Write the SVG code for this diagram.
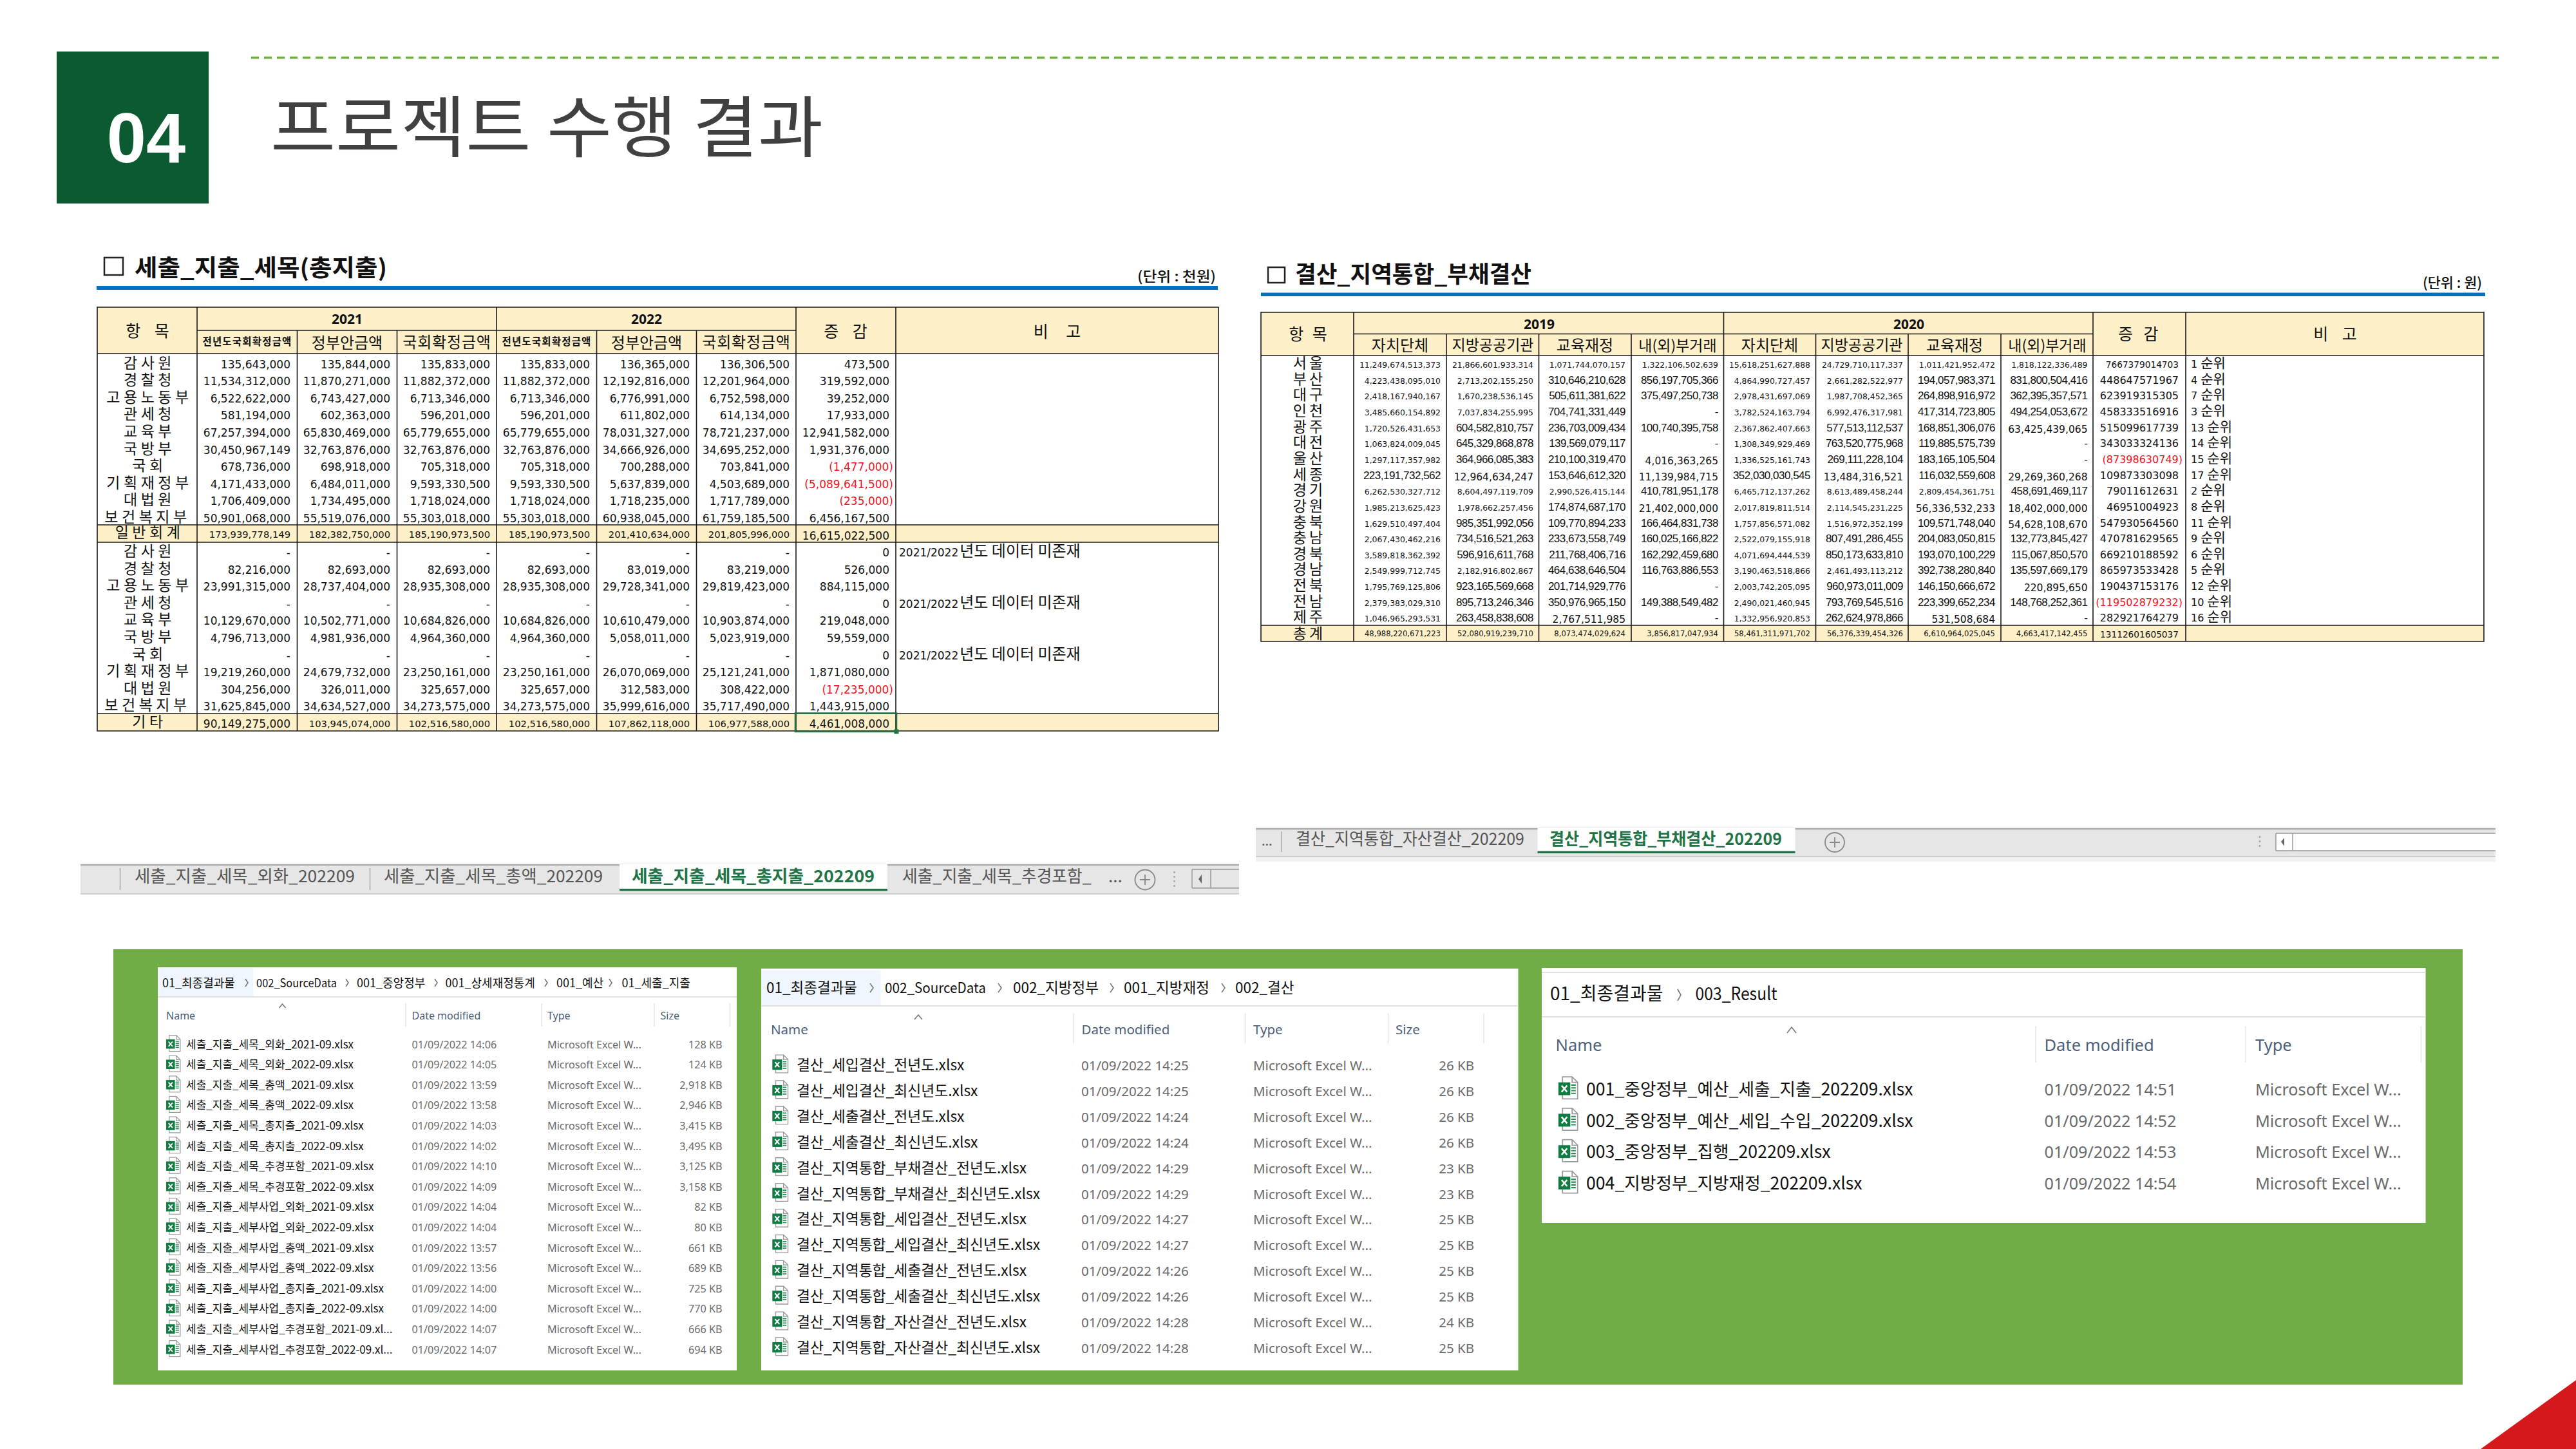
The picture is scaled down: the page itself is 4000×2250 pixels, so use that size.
<svg xmlns="http://www.w3.org/2000/svg" xmlns:xlink="http://www.w3.org/1999/xlink" width="4000" height="2250" viewBox="0 0 4000 2250">
<style>
text{font-family:'Noto Sans CJK KR','Noto Sans',sans-serif;fill:#111}
.n,.t,.m,.b,.z,.nr,.tr{font-family:'DejaVu Sans','Liberation Sans',sans-serif;text-anchor:end}
.n{font-size:17px}.t{font-size:14.7px}.nr{font-size:17px;fill:#f0141e}
.lb{font-size:23px;letter-spacing:5.5px;text-anchor:middle}
.lb2{font-size:23px;letter-spacing:4px;text-anchor:middle}
.hd{font-size:25px;text-anchor:middle}
.yr{font-family:'Noto Sans',sans-serif;font-weight:700;font-size:21px;text-anchor:middle}
.sh{font-size:15.5px;font-weight:700;letter-spacing:1.2px;text-anchor:middle}
.sb{font-size:24px;text-anchor:middle}
.h2{font-size:23px;text-anchor:middle}
.ttl{font-size:36px;font-weight:700}
.unit{font-size:22px;font-weight:500}
.note{font-size:24px}.noted{font-family:'DejaVu Sans',sans-serif;font-size:17px}
.s{font-family:'DejaVu Sans',sans-serif;font-size:12.4px;text-anchor:end}
.st{font-family:'DejaVu Sans',sans-serif;font-size:11.6px;text-anchor:end}
.g{font-family:'Liberation Sans',sans-serif;font-size:17px;letter-spacing:-.5px;text-anchor:end}
.md{font-family:'DejaVu Sans',sans-serif;font-size:15.5px;text-anchor:end}
.d{font-family:'DejaVu Sans',sans-serif;font-size:16px;text-anchor:end}
.d13{font-family:'DejaVu Sans',sans-serif;font-size:13.7px;text-anchor:end}
.dr{font-family:'DejaVu Sans',sans-serif;font-size:16px;text-anchor:end;fill:#f0141e}
.rk{font-family:'DejaVu Sans',sans-serif;font-size:16px}
.rkh{font-family:'Noto Sans CJK KR',sans-serif;font-size:21px}
.grid{stroke:#1a1a1a;stroke-width:1.6;fill:none}
.band{fill:#fef0c8}
.tabt{font-size:26px;fill:#555}
.tabs{font-size:26px;font-weight:700;fill:#217346}
.tl{fill:#e6e6e6}
.sp{stroke:#a8a8a8;stroke-width:1.5;fill:none}
.ch{stroke:#777;stroke-width:1.6;fill:none}
.hl{fill:#f0f6fd}
.ln{stroke:#e2e2e2;stroke-width:2;fill:none}
.sep{stroke:#e5e5e5;stroke-width:1.5;fill:none}
.c,.b2{font-family:'Noto Sans',sans-serif}
.c{fill:#4c607a}
.dt{font-family:'Noto Sans',sans-serif;fill:#6a6a6a}
.sz{font-family:'Noto Sans',sans-serif;fill:#6a6a6a;text-anchor:end}
.p1 .bc{font-size:18px}.p1 .c{font-size:16px}.p1 .nm{font-size:17px}.p1 .dt,.p1 .sz{font-size:16.2px}
.p2 .bc{font-size:22.5px}.p2 .c{font-size:20.5px}.p2 .nm{font-size:22.8px}.p2 .dt,.p2 .sz{font-size:20.5px}
.p3 .bc{font-size:28px}.p3 .c{font-size:25.5px}.p3 .nm{font-size:26.7px}.p3 .dt{font-size:25.2px}
</style>
<defs>
<symbol id="xl" viewBox="0 0 22 26">
<path d="M4.5 1H15L21 7V25H4.500Z" fill="#fff" stroke="#9a9a9a" stroke-width="1.2"/>
<path d="M15 1V7H21" fill="none" stroke="#9a9a9a" stroke-width="1.200"/>
<path d="M14 10h5M14 13h5M14 16h5M14 19h5" stroke="#2e8b57" stroke-width="1.500"/>
<rect x="0" y="7" width="13" height="14" fill="#107c41"/>
<path d="M3.500 10.500L9.500 17.500M9.500 10.500L3.500 17.500" stroke="#fff" stroke-width="1.800"/>
</symbol>
</defs>
<rect width="4000" height="2250" fill="#fff"/>

<g id="header">
<rect x="88" y="80" width="236" height="236" fill="#0b5a31"/>
<text x="227" y="252" text-anchor="middle" style="font-family:'Liberation Sans',sans-serif;font-weight:700;font-size:110px;fill:#fff">04</text>
<line x1="390" y1="89.500" x2="3880" y2="89.500" stroke="#70ad47" stroke-width="3.500" stroke-dasharray="12 8"/>
<text x="420" y="236" textLength="858" lengthAdjust="spacingAndGlyphs" style="font-size:104px;fill:#404040;font-weight:400">프로젝트 수행 결과</text>
</g>

<g id="table-budget">
<rect x="162" y="400" width="29" height="27" fill="none" stroke="#222" stroke-width="2.500"/>
<text class="ttl" x="209" y="429" textLength="392" lengthAdjust="spacingAndGlyphs">세출_지출_세목(총지출)</text>
<text class="unit" x="1766" y="437" textLength="122" lengthAdjust="spacingAndGlyphs">(단위 : 천원)</text>
<rect x="150" y="444" width="1741" height="6" fill="#0070c0"/>
<rect class="band" x="151" y="477" width="1741" height="72"/>
<rect class="band" x="151" y="815" width="1741" height="27"/>
<rect class="band" x="151" y="1108" width="1741" height="27"/>
<path class="grid" d="M151 477H1892V1135H151ZM306 513H1236M151 549H1892M151 815H1892M151 842H1892M151 1108H1892M306 477V1135M771 477V1135M1236 477V1135M1391 477V1135M461.500 513V1135M616.500 513V1135M926.500 513V1135M1081.500 513V1135"/>
<text class="hd" x="233" y="523" style="letter-spacing:8px">항 목</text>
<text class="yr" x="539" y="503">2021</text><text class="yr" x="1004" y="503">2022</text>
<text class="sh" x="384" y="536">전년도국회확정금액</text><text class="sb" x="539" y="541">정부안금액</text><text class="sb" x="694" y="540" style="letter-spacing:.8px">국회확정금액</text>
<text class="sh" x="849" y="536">전년도국회확정금액</text><text class="sb" x="1004" y="541">정부안금액</text><text class="sb" x="1159" y="540" style="letter-spacing:.8px">국회확정금액</text>
<text class="hd" x="1317" y="524" style="letter-spacing:8px">증 감</text><text class="hd" x="1647" y="524" style="letter-spacing:11px">비 고</text>

<g transform="translate(0,571.500)"><text class="lb" x="232">감사원</text><text class="n" x="451">135,643,000</text><text class="n" x="606">135,844,000</text><text class="n" x="761">135,833,000</text><text class="n" x="916">135,833,000</text><text class="n" x="1071">136,365,000</text><text class="n" x="1226">136,306,500</text><text class="n" x="1381">473,500</text></g>
<g transform="translate(0,598.100)"><text class="lb" x="232">경찰청</text><text class="n" x="451">11,534,312,000</text><text class="n" x="606">11,870,271,000</text><text class="n" x="761">11,882,372,000</text><text class="n" x="916">11,882,372,000</text><text class="n" x="1071">12,192,816,000</text><text class="n" x="1226">12,201,964,000</text><text class="n" x="1381">319,592,000</text></g>
<g transform="translate(0,624.700)"><text class="lb" x="232">고용노동부</text><text class="n" x="451">6,522,622,000</text><text class="n" x="606">6,743,427,000</text><text class="n" x="761">6,713,346,000</text><text class="n" x="916">6,713,346,000</text><text class="n" x="1071">6,776,991,000</text><text class="n" x="1226">6,752,598,000</text><text class="n" x="1381">39,252,000</text></g>
<g transform="translate(0,651.300)"><text class="lb" x="232">관세청</text><text class="n" x="451">581,194,000</text><text class="n" x="606">602,363,000</text><text class="n" x="761">596,201,000</text><text class="n" x="916">596,201,000</text><text class="n" x="1071">611,802,000</text><text class="n" x="1226">614,134,000</text><text class="n" x="1381">17,933,000</text></g>
<g transform="translate(0,677.900)"><text class="lb" x="232">교육부</text><text class="n" x="451">67,257,394,000</text><text class="n" x="606">65,830,469,000</text><text class="n" x="761">65,779,655,000</text><text class="n" x="916">65,779,655,000</text><text class="n" x="1071">78,031,327,000</text><text class="n" x="1226">78,721,237,000</text><text class="n" x="1381">12,941,582,000</text></g>
<g transform="translate(0,704.500)"><text class="lb" x="232">국방부</text><text class="n" x="451">30,450,967,149</text><text class="n" x="606">32,763,876,000</text><text class="n" x="761">32,763,876,000</text><text class="n" x="916">32,763,876,000</text><text class="n" x="1071">34,666,926,000</text><text class="n" x="1226">34,695,252,000</text><text class="n" x="1381">1,931,376,000</text></g>
<g transform="translate(0,731.100)"><text class="lb" x="232">국회</text><text class="n" x="451">678,736,000</text><text class="n" x="606">698,918,000</text><text class="n" x="761">705,318,000</text><text class="n" x="916">705,318,000</text><text class="n" x="1071">700,288,000</text><text class="n" x="1226">703,841,000</text><text class="nr" x="1387">(1,477,000)</text></g>
<g transform="translate(0,757.700)"><text class="lb" x="232">기획재정부</text><text class="n" x="451">4,171,433,000</text><text class="n" x="606">6,484,011,000</text><text class="n" x="761">9,593,330,500</text><text class="n" x="916">9,593,330,500</text><text class="n" x="1071">5,637,839,000</text><text class="n" x="1226">4,503,689,000</text><text class="nr" x="1387">(5,089,641,500)</text></g>
<g transform="translate(0,784.300)"><text class="lb" x="232">대법원</text><text class="n" x="451">1,706,409,000</text><text class="n" x="606">1,734,495,000</text><text class="n" x="761">1,718,024,000</text><text class="n" x="916">1,718,024,000</text><text class="n" x="1071">1,718,235,000</text><text class="n" x="1226">1,717,789,000</text><text class="nr" x="1387">(235,000)</text></g>
<g transform="translate(0,810.900)"><text class="lb" x="229">보건복지부</text><text class="n" x="451">50,901,068,000</text><text class="n" x="606">55,519,076,000</text><text class="n" x="761">55,303,018,000</text><text class="n" x="916">55,303,018,000</text><text class="n" x="1071">60,938,045,000</text><text class="n" x="1226">61,759,185,500</text><text class="n" x="1381">6,456,167,500</text></g>
<g transform="translate(0,835)"><text class="lb" x="232">일반회계</text><text class="t" x="451">173,939,778,149</text><text class="t" x="606">182,382,750,000</text><text class="t" x="761">185,190,973,500</text><text class="t" x="916">185,190,973,500</text><text class="t" x="1071">201,410,634,000</text><text class="t" x="1226">201,805,996,000</text><text class="n" x="1381" y="3">16,615,022,500</text></g>
<g transform="translate(0,864)"><text class="lb" x="232">감사원</text><text class="n" x="451">-</text><text class="n" x="606">-</text><text class="n" x="761">-</text><text class="n" x="916">-</text><text class="n" x="1071">-</text><text class="n" x="1226">-</text><text class="n" x="1381">0</text><text x="1396"><tspan class="noted">2021/2022</tspan><tspan class="note" dx="2">년도 데이터 미존재</tspan></text></g>
<g transform="translate(0,890.600)"><text class="lb" x="232">경찰청</text><text class="n" x="451">82,216,000</text><text class="n" x="606">82,693,000</text><text class="n" x="761">82,693,000</text><text class="n" x="916">82,693,000</text><text class="n" x="1071">83,019,000</text><text class="n" x="1226">83,219,000</text><text class="n" x="1381">526,000</text></g>
<g transform="translate(0,917.200)"><text class="lb" x="232">고용노동부</text><text class="n" x="451">23,991,315,000</text><text class="n" x="606">28,737,404,000</text><text class="n" x="761">28,935,308,000</text><text class="n" x="916">28,935,308,000</text><text class="n" x="1071">29,728,341,000</text><text class="n" x="1226">29,819,423,000</text><text class="n" x="1381">884,115,000</text></g>
<g transform="translate(0,943.800)"><text class="lb" x="232">관세청</text><text class="n" x="451">-</text><text class="n" x="606">-</text><text class="n" x="761">-</text><text class="n" x="916">-</text><text class="n" x="1071">-</text><text class="n" x="1226">-</text><text class="n" x="1381">0</text><text x="1396"><tspan class="noted">2021/2022</tspan><tspan class="note" dx="2">년도 데이터 미존재</tspan></text></g>
<g transform="translate(0,970.400)"><text class="lb" x="232">교육부</text><text class="n" x="451">10,129,670,000</text><text class="n" x="606">10,502,771,000</text><text class="n" x="761">10,684,826,000</text><text class="n" x="916">10,684,826,000</text><text class="n" x="1071">10,610,479,000</text><text class="n" x="1226">10,903,874,000</text><text class="n" x="1381">219,048,000</text></g>
<g transform="translate(0,997)"><text class="lb" x="232">국방부</text><text class="n" x="451">4,796,713,000</text><text class="n" x="606">4,981,936,000</text><text class="n" x="761">4,964,360,000</text><text class="n" x="916">4,964,360,000</text><text class="n" x="1071">5,058,011,000</text><text class="n" x="1226">5,023,919,000</text><text class="n" x="1381">59,559,000</text></g>
<g transform="translate(0,1023.600)"><text class="lb" x="232">국회</text><text class="n" x="451">-</text><text class="n" x="606">-</text><text class="n" x="761">-</text><text class="n" x="916">-</text><text class="n" x="1071">-</text><text class="n" x="1226">-</text><text class="n" x="1381">0</text><text x="1396"><tspan class="noted">2021/2022</tspan><tspan class="note" dx="2">년도 데이터 미존재</tspan></text></g>
<g transform="translate(0,1050.200)"><text class="lb" x="232">기획재정부</text><text class="n" x="451">19,219,260,000</text><text class="n" x="606">24,679,732,000</text><text class="n" x="761">23,250,161,000</text><text class="n" x="916">23,250,161,000</text><text class="n" x="1071">26,070,069,000</text><text class="n" x="1226">25,121,241,000</text><text class="n" x="1381">1,871,080,000</text></g>
<g transform="translate(0,1076.800)"><text class="lb" x="232">대법원</text><text class="n" x="451">304,256,000</text><text class="n" x="606">326,011,000</text><text class="n" x="761">325,657,000</text><text class="n" x="916">325,657,000</text><text class="n" x="1071">312,583,000</text><text class="n" x="1226">308,422,000</text><text class="nr" x="1387">(17,235,000)</text></g>
<g transform="translate(0,1103.400)"><text class="lb" x="229">보건복지부</text><text class="n" x="451">31,625,845,000</text><text class="n" x="606">34,634,527,000</text><text class="n" x="761">34,273,575,000</text><text class="n" x="916">34,273,575,000</text><text class="n" x="1071">35,999,616,000</text><text class="n" x="1226">35,717,490,000</text><text class="n" x="1381">1,443,915,000</text></g>
<g transform="translate(0,1129)"><text class="lb" x="232">기타</text><text class="n" x="451" y="1">90,149,275,000</text><text class="t" x="606">103,945,074,000</text><text class="t" x="761">102,516,580,000</text><text class="t" x="916">102,516,580,000</text><text class="t" x="1071">107,862,118,000</text><text class="t" x="1226">106,977,588,000</text><text class="n" x="1381" y="1">4,461,008,000</text></g>
<rect x="1235" y="1107.500" width="157" height="28.500" fill="none" stroke="#217346" stroke-width="2.500"/>
<rect x="1388.500" y="1132.500" width="7" height="7" fill="#217346"/>
</g>

<g id="table-settlement">
<rect x="1969" y="415" width="26" height="24" fill="none" stroke="#222" stroke-width="2.500"/>
<text class="ttl" x="2011" y="439" textLength="367" lengthAdjust="spacingAndGlyphs">결산_지역통합_부채결산</text>
<text class="unit" x="3762" y="447" textLength="92" lengthAdjust="spacingAndGlyphs">(단위 : 원)</text>
<rect x="1958" y="454.500" width="1901" height="5.500" fill="#0070c0"/>
<rect class="band" x="1958" y="485" width="1899" height="67"/>
<rect class="band" x="1958" y="971" width="1899" height="25"/>
<path class="grid" d="M1958 485H3857V996H1958ZM2102 518.500H3250M1958 552H3857M1958 971H3857M2102 485V996M2676.500 485V996M3250 485V996M3394 485V996M2246 518.500V996M2389.500 518.500V996M2533 518.500V996M2819.500 518.500V996M2963 518.500V996M3107 518.500V996"/>
<text class="hd" x="2033" y="528" style="letter-spacing:4px">항 목</text>
<text class="yr" x="2390" y="511">2019</text><text class="yr" x="2964" y="511">2020</text>
<text class="sb" x="2174" y="545">자치단체</text><text class="h2" x="2318" y="544">지방공공기관</text><text class="sb" x="2461" y="545">교육재정</text><text class="h2" x="2605" y="545">내(외)부거래</text>
<text class="sb" x="2748" y="545">자치단체</text><text class="h2" x="2891" y="544">지방공공기관</text><text class="sb" x="3035" y="545">교육재정</text><text class="h2" x="3179" y="545">내(외)부거래</text>
<text class="hd" x="3323" y="528" style="letter-spacing:5.500px">증 감</text><text class="hd" x="3630" y="528" style="letter-spacing:8px">비 고</text>

<g transform="translate(0,571)"><text class="lb2" x="2033" y="1">서울</text><text class="s" x="2237">11,249,674,513,373</text><text class="s" x="2381">21,866,601,933,314</text><text class="s" x="2524">1,071,744,070,157</text><text class="s" x="2668">1,322,106,502,639</text><text class="s" x="2811">15,618,251,627,888</text><text class="s" x="2955">24,729,710,117,337</text><text class="s" x="3098">1,011,421,952,472</text><text class="s" x="3241.500">1,818,122,336,489</text><text class="d13" x="3383">7667379014703</text><text x="3402"><tspan class="rk">1</tspan><tspan class="rkh" dx="5">순위</tspan></text></g>
<g transform="translate(0,595.650)"><text class="lb2" x="2033" y="1">부산</text><text class="s" x="2237">4,223,438,095,010</text><text class="s" x="2381">2,713,202,155,250</text><text class="g" x="2524">310,646,210,628</text><text class="g" x="2668">856,197,705,366</text><text class="s" x="2811">4,864,990,727,457</text><text class="s" x="2955">2,661,282,522,977</text><text class="g" x="3098">194,057,983,371</text><text class="g" x="3241.500">831,800,504,416</text><text class="d" x="3383">448647571967</text><text x="3402"><tspan class="rk">4</tspan><tspan class="rkh" dx="5">순위</tspan></text></g>
<g transform="translate(0,620.300)"><text class="lb2" x="2033" y="1">대구</text><text class="s" x="2237">2,418,167,940,167</text><text class="s" x="2381">1,670,238,536,145</text><text class="g" x="2524">505,611,381,622</text><text class="g" x="2668">375,497,250,738</text><text class="s" x="2811">2,978,431,697,069</text><text class="s" x="2955">1,987,708,452,365</text><text class="g" x="3098">264,898,916,972</text><text class="g" x="3241.500">362,395,357,571</text><text class="d" x="3383">623919315305</text><text x="3402"><tspan class="rk">7</tspan><tspan class="rkh" dx="5">순위</tspan></text></g>
<g transform="translate(0,644.950)"><text class="lb2" x="2033" y="1">인천</text><text class="s" x="2237">3,485,660,154,892</text><text class="s" x="2381">7,037,834,255,995</text><text class="g" x="2524">704,741,331,449</text><text class="g" x="2668">-</text><text class="s" x="2811">3,782,524,163,794</text><text class="s" x="2955">6,992,476,317,981</text><text class="g" x="3098">417,314,723,805</text><text class="g" x="3241.500">494,254,053,672</text><text class="d" x="3383">458333516916</text><text x="3402"><tspan class="rk">3</tspan><tspan class="rkh" dx="5">순위</tspan></text></g>
<g transform="translate(0,669.600)"><text class="lb2" x="2033" y="1">광주</text><text class="s" x="2237">1,720,526,431,653</text><text class="g" x="2381">604,582,810,757</text><text class="g" x="2524">236,703,009,434</text><text class="g" x="2668">100,740,395,758</text><text class="s" x="2811">2,367,862,407,663</text><text class="g" x="2955">577,513,112,537</text><text class="g" x="3098">168,851,306,076</text><text class="md" x="3241.500" y="2">63,425,439,065</text><text class="d" x="3383">515099617739</text><text x="3402"><tspan class="rk">13</tspan><tspan class="rkh" dx="5">순위</tspan></text></g>
<g transform="translate(0,694.250)"><text class="lb2" x="2033" y="1">대전</text><text class="s" x="2237">1,063,824,009,045</text><text class="g" x="2381">645,329,868,878</text><text class="g" x="2524">139,569,079,117</text><text class="g" x="2668">-</text><text class="s" x="2811">1,308,349,929,469</text><text class="g" x="2955">763,520,775,968</text><text class="g" x="3098">119,885,575,739</text><text class="g" x="3241.500">-</text><text class="d" x="3383">343033324136</text><text x="3402"><tspan class="rk">14</tspan><tspan class="rkh" dx="5">순위</tspan></text></g>
<g transform="translate(0,718.900)"><text class="lb2" x="2033" y="1">울산</text><text class="s" x="2237">1,297,117,357,982</text><text class="g" x="2381">364,966,085,383</text><text class="g" x="2524">210,100,319,470</text><text class="md" x="2668" y="2">4,016,363,265</text><text class="s" x="2811">1,336,525,161,743</text><text class="g" x="2955">269,111,228,104</text><text class="g" x="3098">183,165,105,504</text><text class="g" x="3241.500">-</text><text class="dr" x="3389">(87398630749)</text><text x="3402"><tspan class="rk">15</tspan><tspan class="rkh" dx="5">순위</tspan></text></g>
<g transform="translate(0,743.550)"><text class="lb2" x="2033" y="1">세종</text><text class="g" x="2237">223,191,732,562</text><text class="md" x="2381" y="2">12,964,634,247</text><text class="g" x="2524">153,646,612,320</text><text class="md" x="2668" y="2">11,139,984,715</text><text class="g" x="2811">352,030,030,545</text><text class="md" x="2955" y="2">13,484,316,521</text><text class="g" x="3098">116,032,559,608</text><text class="md" x="3241.500" y="2">29,269,360,268</text><text class="d" x="3383">109873303098</text><text x="3402"><tspan class="rk">17</tspan><tspan class="rkh" dx="5">순위</tspan></text></g>
<g transform="translate(0,768.200)"><text class="lb2" x="2033" y="1">경기</text><text class="s" x="2237">6,262,530,327,712</text><text class="s" x="2381">8,604,497,119,709</text><text class="s" x="2524">2,990,526,415,144</text><text class="g" x="2668">410,781,951,178</text><text class="s" x="2811">6,465,712,137,262</text><text class="s" x="2955">8,613,489,458,244</text><text class="s" x="3098">2,809,454,361,751</text><text class="g" x="3241.500">458,691,469,117</text><text class="d" x="3383">79011612631</text><text x="3402"><tspan class="rk">2</tspan><tspan class="rkh" dx="5">순위</tspan></text></g>
<g transform="translate(0,792.850)"><text class="lb2" x="2033" y="1">강원</text><text class="s" x="2237">1,985,213,625,423</text><text class="s" x="2381">1,978,662,257,456</text><text class="g" x="2524">174,874,687,170</text><text class="md" x="2668" y="2">21,402,000,000</text><text class="s" x="2811">2,017,819,811,514</text><text class="s" x="2955">2,114,545,231,225</text><text class="md" x="3098" y="2">56,336,532,233</text><text class="md" x="3241.500" y="2">18,402,000,000</text><text class="d" x="3383">46951004923</text><text x="3402"><tspan class="rk">8</tspan><tspan class="rkh" dx="5">순위</tspan></text></g>
<g transform="translate(0,817.500)"><text class="lb2" x="2033" y="1">충북</text><text class="s" x="2237">1,629,510,497,404</text><text class="g" x="2381">985,351,992,056</text><text class="g" x="2524">109,770,894,233</text><text class="g" x="2668">166,464,831,738</text><text class="s" x="2811">1,757,856,571,082</text><text class="s" x="2955">1,516,972,352,199</text><text class="g" x="3098">109,571,748,040</text><text class="md" x="3241.500" y="2">54,628,108,670</text><text class="d" x="3383">547930564560</text><text x="3402"><tspan class="rk">11</tspan><tspan class="rkh" dx="5">순위</tspan></text></g>
<g transform="translate(0,842.150)"><text class="lb2" x="2033" y="1">충남</text><text class="s" x="2237">2,067,430,462,216</text><text class="g" x="2381">734,516,521,263</text><text class="g" x="2524">233,673,558,749</text><text class="g" x="2668">160,025,166,822</text><text class="s" x="2811">2,522,079,155,918</text><text class="g" x="2955">807,491,286,455</text><text class="g" x="3098">204,083,050,815</text><text class="g" x="3241.500">132,773,845,427</text><text class="d" x="3383">470781629565</text><text x="3402"><tspan class="rk">9</tspan><tspan class="rkh" dx="5">순위</tspan></text></g>
<g transform="translate(0,866.800)"><text class="lb2" x="2033" y="1">경북</text><text class="s" x="2237">3,589,818,362,392</text><text class="g" x="2381">596,916,611,768</text><text class="g" x="2524">211,768,406,716</text><text class="g" x="2668">162,292,459,680</text><text class="s" x="2811">4,071,694,444,539</text><text class="g" x="2955">850,173,633,810</text><text class="g" x="3098">193,070,100,229</text><text class="g" x="3241.500">115,067,850,570</text><text class="d" x="3383">669210188592</text><text x="3402"><tspan class="rk">6</tspan><tspan class="rkh" dx="5">순위</tspan></text></g>
<g transform="translate(0,891.450)"><text class="lb2" x="2033" y="1">경남</text><text class="s" x="2237">2,549,999,712,745</text><text class="s" x="2381">2,182,916,802,867</text><text class="g" x="2524">464,638,646,504</text><text class="g" x="2668">116,763,886,553</text><text class="s" x="2811">3,190,463,518,866</text><text class="s" x="2955">2,461,493,113,212</text><text class="g" x="3098">392,738,280,840</text><text class="g" x="3241.500">135,597,669,179</text><text class="d" x="3383">865973533428</text><text x="3402"><tspan class="rk">5</tspan><tspan class="rkh" dx="5">순위</tspan></text></g>
<g transform="translate(0,916.100)"><text class="lb2" x="2033" y="1">전북</text><text class="s" x="2237">1,795,769,125,806</text><text class="g" x="2381">923,165,569,668</text><text class="g" x="2524">201,714,929,776</text><text class="g" x="2668">-</text><text class="s" x="2811">2,003,742,205,095</text><text class="g" x="2955">960,973,011,009</text><text class="g" x="3098">146,150,666,672</text><text class="md" x="3241.500" y="2">220,895,650</text><text class="d" x="3383">190437153176</text><text x="3402"><tspan class="rk">12</tspan><tspan class="rkh" dx="5">순위</tspan></text></g>
<g transform="translate(0,940.750)"><text class="lb2" x="2033" y="1">전남</text><text class="s" x="2237">2,379,383,029,310</text><text class="g" x="2381">895,713,246,346</text><text class="g" x="2524">350,976,965,150</text><text class="g" x="2668">149,388,549,482</text><text class="s" x="2811">2,490,021,460,945</text><text class="g" x="2955">793,769,545,516</text><text class="g" x="3098">223,399,652,234</text><text class="g" x="3241.500">148,768,252,361</text><text class="dr" x="3389">(119502879232)</text><text x="3402"><tspan class="rk">10</tspan><tspan class="rkh" dx="5">순위</tspan></text></g>
<g transform="translate(0,965.400)"><text class="lb2" x="2033" y="1">제주</text><text class="s" x="2237">1,046,965,293,531</text><text class="g" x="2381">263,458,838,608</text><text class="md" x="2524" y="2">2,767,511,985</text><text class="g" x="2668">-</text><text class="s" x="2811">1,332,956,920,853</text><text class="g" x="2955">262,624,978,866</text><text class="md" x="3098" y="2">531,508,684</text><text class="g" x="3241.500">-</text><text class="d" x="3383">282921764279</text><text x="3402"><tspan class="rk">16</tspan><tspan class="rkh" dx="5">순위</tspan></text></g>
<g transform="translate(0,988)"><text class="lb2" x="2033" y="4">총계</text><text class="st" x="2237">48,988,220,671,223</text><text class="st" x="2381">52,080,919,239,710</text><text class="st" x="2524">8,073,474,029,624</text><text class="st" x="2668">3,856,817,047,934</text><text class="st" x="2811">58,461,311,971,702</text><text class="st" x="2955">56,376,339,454,326</text><text class="st" x="3098">6,610,964,025,045</text><text class="st" x="3241.500">4,663,417,142,455</text><text class="d13" x="3383" y="2">13112601605037</text></g>
</g>

<g id="tabs-budget">
<rect class="tl" x="125" y="1342" width="1799" height="47"/>
<path d="M125 1343H1924" stroke="#acacac" stroke-width="2.500"/>
<path d="M125 1388H1924" stroke="#cfcfcf" stroke-width="2"/>
<rect x="962" y="1342" width="416" height="39" fill="#fff"/>
<rect x="962" y="1380" width="416" height="3.500" fill="#217346"/>
<path class="sp" d="M186.500 1348V1382M574.500 1348V1382"/>
<text class="tabt" x="209" y="1370" textLength="342" lengthAdjust="spacingAndGlyphs">세출_지출_세목_외화_202209</text>
<text class="tabt" x="596" y="1370" textLength="340" lengthAdjust="spacingAndGlyphs">세출_지출_세목_총액_202209</text>
<text class="tabs" x="981" y="1370" textLength="377" lengthAdjust="spacingAndGlyphs">세출_지출_세목_총지출_202209</text>
<text class="tabt" x="1401" y="1370" textLength="294" lengthAdjust="spacingAndGlyphs">세출_지출_세목_추경포함_</text>
<text class="tabt" x="1721" y="1370">...</text>
<circle cx="1778" cy="1366" r="15.500" fill="none" stroke="#888" stroke-width="1.800"/>
<path d="M1770 1366H1786M1778 1358V1374" stroke="#888" stroke-width="1.800"/>
<path d="M1823.500 1353V1378" stroke="#aaa" stroke-width="2.500" stroke-dasharray="3 4"/>
<path d="M1851 1350H1924M1851 1379H1924M1851 1350V1379M1880 1350V1379" fill="#fff" stroke="#999" stroke-width="1.500"/>
<path d="M1866 1358L1861 1365L1866 1372Z" fill="#666"/>
</g>

<g id="tabs-settlement">
<rect class="tl" x="1950" y="1286" width="1925" height="44"/>
<rect x="1950" y="1330" width="1925" height="8" fill="#f2f2f2"/>
<path d="M1950 1287H3875" stroke="#acacac" stroke-width="2.500"/>
<path d="M1950 1330H3875" stroke="#cfcfcf" stroke-width="2"/>
<rect x="2387.500" y="1286" width="400" height="37" fill="#fff"/>
<rect x="2387.500" y="1321.500" width="400" height="3.500" fill="#217346"/>
<path class="sp" d="M1990 1291V1323"/>
<text class="tabt" x="1959" y="1313" style="font-size:20px">...</text>
<text class="tabt" x="2012" y="1312" textLength="355" lengthAdjust="spacingAndGlyphs">결산_지역통합_자산결산_202209</text>
<text class="tabs" x="2406" y="1312" textLength="361" lengthAdjust="spacingAndGlyphs">결산_지역통합_부채결산_202209</text>
<circle cx="2849" cy="1308" r="15" fill="none" stroke="#888" stroke-width="1.800"/>
<path d="M2841 1308H2857M2849 1300V1316" stroke="#888" stroke-width="1.800"/>
<path d="M3509 1298V1318" stroke="#aaa" stroke-width="2.500" stroke-dasharray="3 4"/>
<rect x="3534" y="1294" width="341" height="27" fill="#fff"/>
<path d="M3534 1294H3875M3534 1321H3875M3534 1294V1321M3560 1294V1321" fill="none" stroke="#999" stroke-width="1.500"/>
<path d="M3547 1301L3542 1307L3547 1314Z" fill="#666"/>
</g>

<g id="explorer-band"><rect x="176" y="1474" width="3648" height="676" fill="#70ad47"/></g>

<g id="explorer-1" class="p1">
<rect x="245" y="1502" width="899" height="626" fill="#fff"/>
<rect class="hl" x="246" y="1503" width="147" height="45"/>
<path class="ln" d="M245 1548H1144"/>
<text class="bc" x="252" y="1533">01_최종결과물</text><text class="bc" x="398" y="1533" textLength="125" lengthAdjust="spacingAndGlyphs">002_SourceData</text><text class="bc" x="554" y="1533">001_중앙정부</text><text class="bc" x="691.500" y="1533">001_상세재정통계</text><text class="bc" x="864" y="1533">001_예산</text><text class="bc" x="965.500" y="1533">01_세출_지출</text>
<path class="ch" d="M381 1520l4 6l-4 6M537 1520l4 6l-4 6M675 1520l4 6l-4 6M846 1520l4 6l-4 6M946 1520l4 6l-4 6"/>
<text class="c" x="258" y="1583">Name</text><text class="c" x="639.500" y="1583">Date modified</text><text class="c" x="850" y="1583">Type</text><text class="c" x="1025.500" y="1583">Size</text>
<path class="sep" d="M630 1558V1594M841 1558V1594M1016 1558V1594M1133.500 1558V1594"/>
<path class="ch" d="M433.500 1565l5 -6l5 6"/>
<g transform="translate(0,1627.600)"><use href="#xl" x="258" y="-21" width="23" height="27"/><text class="nm" x="289">세출_지출_세목_외화_2021-09.xlsx</text><text class="dt" x="639.500">01/09/2022 14:06</text><text class="dt" x="850">Microsoft Excel W...</text><text class="sz" x="1121.500">128 KB</text></g>
<g transform="translate(0,1659.200)"><use href="#xl" x="258" y="-21" width="23" height="27"/><text class="nm" x="289">세출_지출_세목_외화_2022-09.xlsx</text><text class="dt" x="639.500">01/09/2022 14:05</text><text class="dt" x="850">Microsoft Excel W...</text><text class="sz" x="1121.500">124 KB</text></g>
<g transform="translate(0,1690.800)"><use href="#xl" x="258" y="-21" width="23" height="27"/><text class="nm" x="289">세출_지출_세목_총액_2021-09.xlsx</text><text class="dt" x="639.500">01/09/2022 13:59</text><text class="dt" x="850">Microsoft Excel W...</text><text class="sz" x="1121.500">2,918 KB</text></g>
<g transform="translate(0,1722.400)"><use href="#xl" x="258" y="-21" width="23" height="27"/><text class="nm" x="289">세출_지출_세목_총액_2022-09.xlsx</text><text class="dt" x="639.500">01/09/2022 13:58</text><text class="dt" x="850">Microsoft Excel W...</text><text class="sz" x="1121.500">2,946 KB</text></g>
<g transform="translate(0,1754)"><use href="#xl" x="258" y="-21" width="23" height="27"/><text class="nm" x="289">세출_지출_세목_총지출_2021-09.xlsx</text><text class="dt" x="639.500">01/09/2022 14:03</text><text class="dt" x="850">Microsoft Excel W...</text><text class="sz" x="1121.500">3,415 KB</text></g>
<g transform="translate(0,1785.600)"><use href="#xl" x="258" y="-21" width="23" height="27"/><text class="nm" x="289">세출_지출_세목_총지출_2022-09.xlsx</text><text class="dt" x="639.500">01/09/2022 14:02</text><text class="dt" x="850">Microsoft Excel W...</text><text class="sz" x="1121.500">3,495 KB</text></g>
<g transform="translate(0,1817.200)"><use href="#xl" x="258" y="-21" width="23" height="27"/><text class="nm" x="289">세출_지출_세목_추경포함_2021-09.xlsx</text><text class="dt" x="639.500">01/09/2022 14:10</text><text class="dt" x="850">Microsoft Excel W...</text><text class="sz" x="1121.500">3,125 KB</text></g>
<g transform="translate(0,1848.800)"><use href="#xl" x="258" y="-21" width="23" height="27"/><text class="nm" x="289">세출_지출_세목_추경포함_2022-09.xlsx</text><text class="dt" x="639.500">01/09/2022 14:09</text><text class="dt" x="850">Microsoft Excel W...</text><text class="sz" x="1121.500">3,158 KB</text></g>
<g transform="translate(0,1880.400)"><use href="#xl" x="258" y="-21" width="23" height="27"/><text class="nm" x="289">세출_지출_세부사업_외화_2021-09.xlsx</text><text class="dt" x="639.500">01/09/2022 14:04</text><text class="dt" x="850">Microsoft Excel W...</text><text class="sz" x="1121.500">82 KB</text></g>
<g transform="translate(0,1912)"><use href="#xl" x="258" y="-21" width="23" height="27"/><text class="nm" x="289">세출_지출_세부사업_외화_2022-09.xlsx</text><text class="dt" x="639.500">01/09/2022 14:04</text><text class="dt" x="850">Microsoft Excel W...</text><text class="sz" x="1121.500">80 KB</text></g>
<g transform="translate(0,1943.600)"><use href="#xl" x="258" y="-21" width="23" height="27"/><text class="nm" x="289">세출_지출_세부사업_총액_2021-09.xlsx</text><text class="dt" x="639.500">01/09/2022 13:57</text><text class="dt" x="850">Microsoft Excel W...</text><text class="sz" x="1121.500">661 KB</text></g>
<g transform="translate(0,1975.200)"><use href="#xl" x="258" y="-21" width="23" height="27"/><text class="nm" x="289">세출_지출_세부사업_총액_2022-09.xlsx</text><text class="dt" x="639.500">01/09/2022 13:56</text><text class="dt" x="850">Microsoft Excel W...</text><text class="sz" x="1121.500">689 KB</text></g>
<g transform="translate(0,2006.800)"><use href="#xl" x="258" y="-21" width="23" height="27"/><text class="nm" x="289">세출_지출_세부사업_총지출_2021-09.xlsx</text><text class="dt" x="639.500">01/09/2022 14:00</text><text class="dt" x="850">Microsoft Excel W...</text><text class="sz" x="1121.500">725 KB</text></g>
<g transform="translate(0,2038.400)"><use href="#xl" x="258" y="-21" width="23" height="27"/><text class="nm" x="289">세출_지출_세부사업_총지출_2022-09.xlsx</text><text class="dt" x="639.500">01/09/2022 14:00</text><text class="dt" x="850">Microsoft Excel W...</text><text class="sz" x="1121.500">770 KB</text></g>
<g transform="translate(0,2070)"><use href="#xl" x="258" y="-21" width="23" height="27"/><text class="nm" x="289">세출_지출_세부사업_추경포함_2021-09.xl...</text><text class="dt" x="639.500">01/09/2022 14:07</text><text class="dt" x="850">Microsoft Excel W...</text><text class="sz" x="1121.500">666 KB</text></g>
<g transform="translate(0,2101.600)"><use href="#xl" x="258" y="-21" width="23" height="27"/><text class="nm" x="289">세출_지출_세부사업_추경포함_2022-09.xl...</text><text class="dt" x="639.500">01/09/2022 14:07</text><text class="dt" x="850">Microsoft Excel W...</text><text class="sz" x="1121.500">694 KB</text></g>
</g>

<g id="explorer-2" class="p2">
<rect x="1182" y="1504" width="1175.500" height="624" fill="#fff"/>
<rect class="hl" x="1182" y="1506.500" width="185.500" height="54.500"/>
<path class="ln" d="M1182 1562H2357.500"/>
<text class="bc" x="1190" y="1542">01_최종결과물</text><text class="bc" x="1374" y="1542" textLength="157" lengthAdjust="spacingAndGlyphs">002_SourceData</text><text class="bc" x="1573" y="1542">002_지방정부</text><text class="bc" x="1745" y="1542">001_지방재정</text><text class="bc" x="1918" y="1542">002_결산</text>
<path class="ch" d="M1351 1527l5 7l-5 7M1550 1527l5 7l-5 7M1724 1527l5 7l-5 7M1897 1527l5 7l-5 7"/>
<text class="c" x="1197" y="1606">Name</text><text class="c" x="1679.500" y="1606">Date modified</text><text class="c" x="1946" y="1606">Type</text><text class="c" x="2167" y="1606">Size</text>
<path class="sep" d="M1667 1573V1620.500M1933.500 1573V1620.500M2155.500 1573V1620.500M2304 1573V1620.500"/>
<path class="ch" d="M1420 1583l6 -7l6 7"/>
<g transform="translate(0,1662)"><use href="#xl" x="1198" y="-25" width="28" height="30"/><text class="nm" x="1237">결산_세입결산_전년도.xlsx</text><text class="dt" x="1679">01/09/2022 14:25</text><text class="dt" x="1946">Microsoft Excel W...</text><text class="sz" x="2289">26 KB</text></g>
<g transform="translate(0,1701.900)"><use href="#xl" x="1198" y="-25" width="28" height="30"/><text class="nm" x="1237">결산_세입결산_최신년도.xlsx</text><text class="dt" x="1679">01/09/2022 14:25</text><text class="dt" x="1946">Microsoft Excel W...</text><text class="sz" x="2289">26 KB</text></g>
<g transform="translate(0,1741.800)"><use href="#xl" x="1198" y="-25" width="28" height="30"/><text class="nm" x="1237">결산_세출결산_전년도.xlsx</text><text class="dt" x="1679">01/09/2022 14:24</text><text class="dt" x="1946">Microsoft Excel W...</text><text class="sz" x="2289">26 KB</text></g>
<g transform="translate(0,1781.700)"><use href="#xl" x="1198" y="-25" width="28" height="30"/><text class="nm" x="1237">결산_세출결산_최신년도.xlsx</text><text class="dt" x="1679">01/09/2022 14:24</text><text class="dt" x="1946">Microsoft Excel W...</text><text class="sz" x="2289">26 KB</text></g>
<g transform="translate(0,1821.600)"><use href="#xl" x="1198" y="-25" width="28" height="30"/><text class="nm" x="1237">결산_지역통합_부채결산_전년도.xlsx</text><text class="dt" x="1679">01/09/2022 14:29</text><text class="dt" x="1946">Microsoft Excel W...</text><text class="sz" x="2289">23 KB</text></g>
<g transform="translate(0,1861.500)"><use href="#xl" x="1198" y="-25" width="28" height="30"/><text class="nm" x="1237">결산_지역통합_부채결산_최신년도.xlsx</text><text class="dt" x="1679">01/09/2022 14:29</text><text class="dt" x="1946">Microsoft Excel W...</text><text class="sz" x="2289">23 KB</text></g>
<g transform="translate(0,1901.400)"><use href="#xl" x="1198" y="-25" width="28" height="30"/><text class="nm" x="1237">결산_지역통합_세입결산_전년도.xlsx</text><text class="dt" x="1679">01/09/2022 14:27</text><text class="dt" x="1946">Microsoft Excel W...</text><text class="sz" x="2289">25 KB</text></g>
<g transform="translate(0,1941.300)"><use href="#xl" x="1198" y="-25" width="28" height="30"/><text class="nm" x="1237">결산_지역통합_세입결산_최신년도.xlsx</text><text class="dt" x="1679">01/09/2022 14:27</text><text class="dt" x="1946">Microsoft Excel W...</text><text class="sz" x="2289">25 KB</text></g>
<g transform="translate(0,1981.200)"><use href="#xl" x="1198" y="-25" width="28" height="30"/><text class="nm" x="1237">결산_지역통합_세출결산_전년도.xlsx</text><text class="dt" x="1679">01/09/2022 14:26</text><text class="dt" x="1946">Microsoft Excel W...</text><text class="sz" x="2289">25 KB</text></g>
<g transform="translate(0,2021.100)"><use href="#xl" x="1198" y="-25" width="28" height="30"/><text class="nm" x="1237">결산_지역통합_세출결산_최신년도.xlsx</text><text class="dt" x="1679">01/09/2022 14:26</text><text class="dt" x="1946">Microsoft Excel W...</text><text class="sz" x="2289">25 KB</text></g>
<g transform="translate(0,2061)"><use href="#xl" x="1198" y="-25" width="28" height="30"/><text class="nm" x="1237">결산_지역통합_자산결산_전년도.xlsx</text><text class="dt" x="1679">01/09/2022 14:28</text><text class="dt" x="1946">Microsoft Excel W...</text><text class="sz" x="2289">24 KB</text></g>
<g transform="translate(0,2100.900)"><use href="#xl" x="1198" y="-25" width="28" height="30"/><text class="nm" x="1237">결산_지역통합_자산결산_최신년도.xlsx</text><text class="dt" x="1679">01/09/2022 14:28</text><text class="dt" x="1946">Microsoft Excel W...</text><text class="sz" x="2289">25 KB</text></g>
</g>

<g id="explorer-3" class="p3">
<rect x="2394" y="1503" width="1372.500" height="396" fill="#fff"/>
<path class="ln" d="M2394 1510H3766.500M2394 1579H3766.500"/>
<text class="bc" x="2407" y="1553">01_최종결과물</text><text class="bc" x="2632.500" y="1553" textLength="127" lengthAdjust="spacingAndGlyphs">003_Result</text>
<path class="ch" d="M2605 1536l5 9l-5 9"/>
<text class="c" x="2415.500" y="1631.500">Name</text><text class="c" x="3174.500" y="1631.500">Date modified</text><text class="c" x="3502" y="1631.500">Type</text>
<path class="sep" d="M3161 1593V1650M3487 1593V1650M3759.500 1593V1650"/>
<path class="ch" d="M2775 1604l7 -9l7 9"/>
<g transform="translate(0,1700.700)"><use href="#xl" x="2419" y="-30" width="33" height="37"/><text class="nm" x="2463">001_중앙정부_예산_세출_지출_202209.xlsx</text><text class="dt" x="3174.500">01/09/2022 14:51</text><text class="dt" x="3502">Microsoft Excel W...</text></g>
<g transform="translate(0,1749.500)"><use href="#xl" x="2419" y="-30" width="33" height="37"/><text class="nm" x="2463">002_중앙정부_예산_세입_수입_202209.xlsx</text><text class="dt" x="3174.500">01/09/2022 14:52</text><text class="dt" x="3502">Microsoft Excel W...</text></g>
<g transform="translate(0,1798.300)"><use href="#xl" x="2419" y="-30" width="33" height="37"/><text class="nm" x="2463">003_중앙정부_집행_202209.xlsx</text><text class="dt" x="3174.500">01/09/2022 14:53</text><text class="dt" x="3502">Microsoft Excel W...</text></g>
<g transform="translate(0,1847.100)"><use href="#xl" x="2419" y="-30" width="33" height="37"/><text class="nm" x="2463">004_지방정부_지방재정_202209.xlsx</text><text class="dt" x="3174.500">01/09/2022 14:54</text><text class="dt" x="3502">Microsoft Excel W...</text></g>
</g>

<g id="corner"><polygon points="3852,2250 4000,2143 4000,2250" fill="#d4181c"/></g>
</svg>
